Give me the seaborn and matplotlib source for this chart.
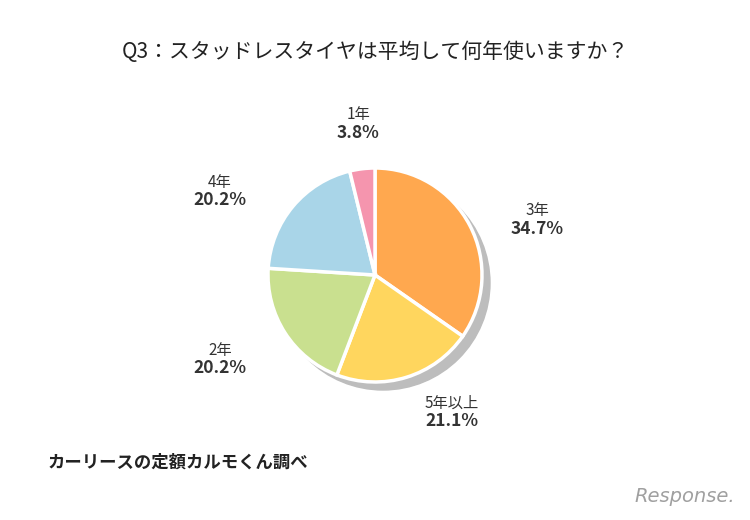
import matplotlib.pyplot as plt
import seaborn as sns
from matplotlib.patches import Circle

sns.set_style("white")
plt.rcParams['font.family'] = "Noto Sans CJK JP"

# データ
labels = ["3年", "5年以上", "2年", "4年", "1年"]
values = [34.7, 21.1, 20.2, 20.2, 3.8]
colors = ["#FFA84F", "#FFD65E", "#C9E08F", "#A9D5E8", "#F595AE"]
label_pos = [(537, 220), (452, 412), (220, 359), (220, 191), (358, 124)]

fig = plt.figure(figsize=(7.5, 5.2), dpi=100)
ax = fig.add_axes([0, 0, 1, 1])
ax.set_xlim(0, 750)
ax.set_ylim(520, 0)
ax.set_aspect("equal")
ax.axis("off")

cx, cy, r = 375, 275, 107
# 影
ax.add_patch(Circle((cx + 8, cy + 8), r, color="#BDBDBD", zorder=1))

# y軸反転のため counterclock=True が画面上では時計回り
wedges, _ = ax.pie(values, colors=colors, startangle=-90, counterclock=True,
                   center=(cx, cy), radius=r,
                   wedgeprops=dict(edgecolor="white", linewidth=2.5, zorder=2))
ax.set_xlim(0, 750)
ax.set_ylim(520, 0)
ax.axis("off")

for lab, v, (x, y) in zip(labels, values, label_pos):
    ax.text(x, y - 9, lab, ha="center", va="center", fontsize=11, color="#333333")
    ax.text(x, y + 9, f"{v}%", ha="center", va="center", fontsize=12.5,
            fontweight="bold", color="#333333")

ax.text(375, 52, "Q3：スタッドレスタイヤは平均して何年使いますか？", ha="center",
        va="center", fontsize=15, color="#222222")
ax.text(48, 463, "カーリースの定額カルモくん調べ", ha="left", va="center",
        fontsize=12.5, fontweight="bold", color="#222222")
ax.text(735, 497, "Response.", ha="right", va="center", fontsize=14,
        style="italic", color="#A0A0A0", family="DejaVu Sans")

fig.savefig("out.png", dpi=100)
